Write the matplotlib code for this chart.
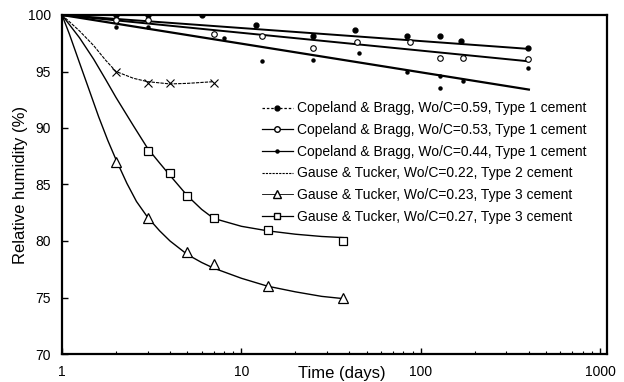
import numpy as np
import matplotlib
matplotlib.use("Agg")
from matplotlib import pyplot as plt
from matplotlib.lines import Line2D

plt.rcParams['font.family'] = ['Liberation Sans', 'DejaVu Sans']

# Copeland & Bragg, Wo/C=0.59 (large filled dots)
cb59_t = [2, 3, 6, 12, 25, 43, 84, 128, 167, 395]
cb59_rh = [100, 100, 100, 99.1, 98.1, 98.7, 98.1, 98.1, 97.7, 97.1]
# Copeland & Bragg, Wo/C=0.53 (open circles)
cb53_t = [2, 3, 7, 13, 25, 44, 87, 128, 171, 395]
cb53_rh = [99.6, 99.6, 98.3, 98.1, 97.1, 97.6, 97.6, 96.2, 96.2, 96.1]
# Copeland & Bragg, Wo/C=0.44 (small dots)
cb44_t = [2, 3, 8, 13, 25, 45, 84, 128, 128, 171, 395]
cb44_rh = [98.9, 98.9, 98.0, 95.9, 96.0, 96.6, 95.0, 94.6, 93.5, 94.2, 95.3]

# fitted straight lines (log time)
cb_fit_t = [1, 400]
cb59_fit = [100, 97.0]
cb53_fit = [100, 95.9]
cb44_fit = [100, 93.4]

# Gause & Tucker
gt22_t = [2, 3, 4, 7]
gt22_rh = [95, 94, 94, 94]
gt23_t = [2, 3, 5, 7, 14, 37]
gt23_rh = [87, 82, 79, 78, 76, 75]
gt27_t = [3, 4, 5, 7, 14, 37]
gt27_rh = [88, 86, 84, 82, 81, 80]

# smooth curves
gt22_curve_t = [1, 1.25, 1.5, 1.75, 2, 2.5, 3, 4, 5, 7]
gt22_curve_rh = [100, 98.6, 97.3, 96.0, 95.0, 94.4, 94.1, 93.9, 93.95, 94.1]
gt23_curve_t = [1, 1.1, 1.25, 1.4, 1.6, 1.8, 2, 2.3, 2.6, 3, 3.5, 4, 5, 6, 7, 10, 14, 20, 28, 37]
gt23_curve_rh = [100, 98.3, 95.8, 93.6, 91.0, 88.9, 87.2, 85.1, 83.5, 82.1, 80.9, 80.0, 78.8, 78.1, 77.6,
                 76.7, 76.0, 75.5, 75.1, 74.9]
gt27_curve_t = [1, 1.25, 1.5, 1.75, 2, 2.5, 3, 3.5, 4, 5, 6, 7, 10, 14, 20, 28, 37]
gt27_curve_rh = [100, 98.0, 96.1, 94.3, 92.7, 90.2, 88.2, 86.9, 85.8, 84.0, 82.8, 82.0, 81.3, 80.9, 80.6,
                 80.4, 80.3]

labels = ['Copeland & Bragg, Wo/C=0.59, Type 1 cement',
          'Copeland & Bragg, Wo/C=0.53, Type 1 cement',
          'Copeland & Bragg, Wo/C=0.44, Type 1 cement',
          'Gause & Tucker, Wo/C=0.22, Type 2 cement',
          'Gause & Tucker, Wo/C=0.23, Type 3 cement',
          'Gause & Tucker, Wo/C=0.27, Type 3 cement']

fig = plt.figure(figsize=(6.24, 3.82), dpi=100)
ax = fig.add_axes([62/624, 1-354/382, 545/624, 339/382])

# Copeland lines and points
ax.plot(cb_fit_t, cb59_fit, color='black', lw=1.4)
ax.plot(cb_fit_t, cb53_fit, color='black', lw=1.4)
ax.plot(cb_fit_t, cb44_fit, color='black', lw=1.6)
ax.plot(cb59_t, cb59_rh, 'o', color='black', ms=3.5, ls='none')
ax.plot(cb53_t, cb53_rh, 'o', mfc='white', mec='black', mew=0.8, ms=4, ls='none')
ax.plot(cb44_t, cb44_rh, 'o', color='black', ms=2.2, ls='none')

# Gause & Tucker curves and points
ax.plot(gt22_curve_t, gt22_curve_rh, color='black', lw=0.8, ls=(0, (3, 1)))
ax.plot(gt22_t, gt22_rh, 'x', color='black', ms=6, mew=0.8, ls='none')
ax.plot(gt23_curve_t, gt23_curve_rh, color='black', lw=1.0)
ax.plot(gt23_t, gt23_rh, '^', mfc='white', mec='black', mew=0.9, ms=6.5, ls='none')
ax.plot(gt27_curve_t, gt27_curve_rh, color='black', lw=1.0)
ax.plot(gt27_t, gt27_rh, 's', mfc='white', mec='black', mew=0.9, ms=5.5, ls='none')

handles = [
    Line2D([], [], color='black', lw=0.9, ls=(0, (2, 1.5)), marker='o', ms=3.5),
    Line2D([], [], color='black', lw=0.9, marker='o', mfc='white', ms=4),
    Line2D([], [], color='black', lw=0.9, marker='o', ms=2.2),
    Line2D([], [], color='black', lw=0.8, ls=(0, (2, 1))),
    Line2D([], [], color='black', lw=0.6, marker='^', mfc='white', ms=6),
    Line2D([], [], color='black', lw=0.9, marker='s', mfc='white', ms=5),
]
ax.legend(handles, labels, loc='upper left', bbox_to_anchor=(0.367, 0.745),
          frameon=False, fontsize=10, borderpad=0, borderaxespad=0,
          handlelength=2.2, handletextpad=0.3, labelspacing=0.55)

ax.set_xscale('log')
ax.set_xlim(1, 1090)
ax.set_ylim(70, 100)
ax.set_yticks([70, 75, 80, 85, 90, 95, 100])
ax.set_xticks([1, 10, 100, 1000])
ax.set_xticklabels(['1', '10', '100', '1000'])
ax.tick_params(axis='both', which='both', direction='in', labelsize=10, pad=8)
ax.tick_params(axis='both', which='major', length=4, width=1)
ax.tick_params(axis='x', which='minor', length=2.5, width=0.8)
for s in ax.spines.values():
    s.set_linewidth(1.6)

ax.set_xlabel('Time (days)', fontsize=12)
ax.xaxis.set_label_coords(0.514, -0.035)
ax.set_ylabel('Relative humidity (%)', fontsize=12)
ax.yaxis.set_label_coords(-0.062, 0.5)

fig.savefig('out.png', dpi=100)
